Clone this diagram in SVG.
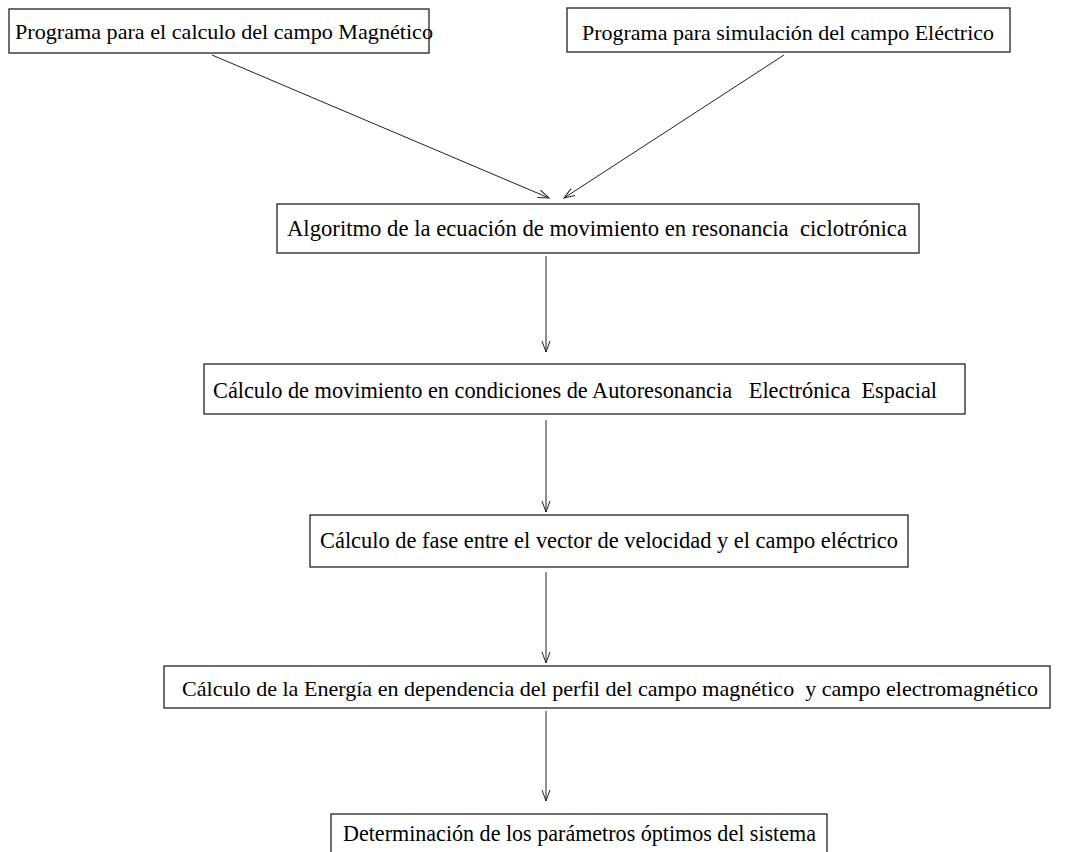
<svg xmlns="http://www.w3.org/2000/svg" width="1067" height="852" viewBox="0 0 1067 852">
<defs>
<style>
.box{fill:#fff;stroke:#222;stroke-width:1.3}
.t{font-family:"Liberation Serif","Times New Roman",serif;font-size:24px;fill:#000}
.s{font-size:21px}
.m{font-size:22px}
.c{stroke:#222;stroke-width:1;fill:none}
</style>
<marker id="ah" markerWidth="12" markerHeight="10" refX="11" refY="4.5" orient="auto" markerUnits="userSpaceOnUse">
<path d="M0,0.5 L11,4.5 L0,8.5" fill="none" stroke="#222" stroke-width="1"/>
</marker>
</defs>
<rect width="1067" height="852" fill="#fff"/>
<g id="connectors">
<line class="c" x1="212" y1="55" x2="549" y2="198" marker-end="url(#ah)"/>
<line class="c" x1="784" y1="55" x2="564" y2="198" marker-end="url(#ah)"/>
<line class="c" x1="546" y1="256" x2="546" y2="352" marker-end="url(#ah)"/>
<line class="c" x1="546" y1="420" x2="546" y2="512" marker-end="url(#ah)"/>
<line class="c" x1="546" y1="572" x2="546" y2="663" marker-end="url(#ah)"/>
<line class="c" x1="546" y1="711" x2="546" y2="801" marker-end="url(#ah)"/>
</g>
<g id="n1">
<rect class="box" x="9" y="9" width="420" height="44"/>
<text class="t s" x="15" y="39" textLength="418" lengthAdjust="spacingAndGlyphs">Programa para el calculo del campo Magnético</text>
</g>
<g id="n2">
<rect class="box" x="567" y="8" width="443" height="44"/>
<text class="t s" x="582" y="40" textLength="412" lengthAdjust="spacingAndGlyphs">Programa para simulación del campo Eléctrico</text>
</g>
<g id="n3">
<rect class="box" x="277" y="204" width="642" height="49"/>
<text class="t" x="287" y="236" textLength="620" lengthAdjust="spacingAndGlyphs" xml:space="preserve">Algoritmo de la ecuación de movimiento en resonancia  ciclotrónica</text>
</g>
<g id="n4">
<rect class="box" x="204" y="364" width="761" height="50"/>
<text class="t" x="213" y="398" textLength="724" lengthAdjust="spacingAndGlyphs" xml:space="preserve">Cálculo de movimiento en condiciones de Autoresonancia   Electrónica  Espacial</text>
</g>
<g id="n5">
<rect class="box" x="310" y="515" width="598" height="52"/>
<text class="t" x="320" y="548" textLength="578" lengthAdjust="spacingAndGlyphs">Cálculo de fase entre el vector de velocidad y el campo eléctrico</text>
</g>
<g id="n6">
<rect class="box" x="164" y="666" width="886" height="42"/>
<text class="t m" x="182" y="696" textLength="856" lengthAdjust="spacingAndGlyphs" xml:space="preserve">Cálculo de la Energía en dependencia del perfil del campo magnético  y campo electromagnético</text>
</g>
<g id="n7">
<rect class="box" x="331" y="814" width="496" height="46"/>
<text class="t" x="343" y="841" textLength="473" lengthAdjust="spacingAndGlyphs">Determinación de los parámetros óptimos del sistema</text>
</g>
</svg>
